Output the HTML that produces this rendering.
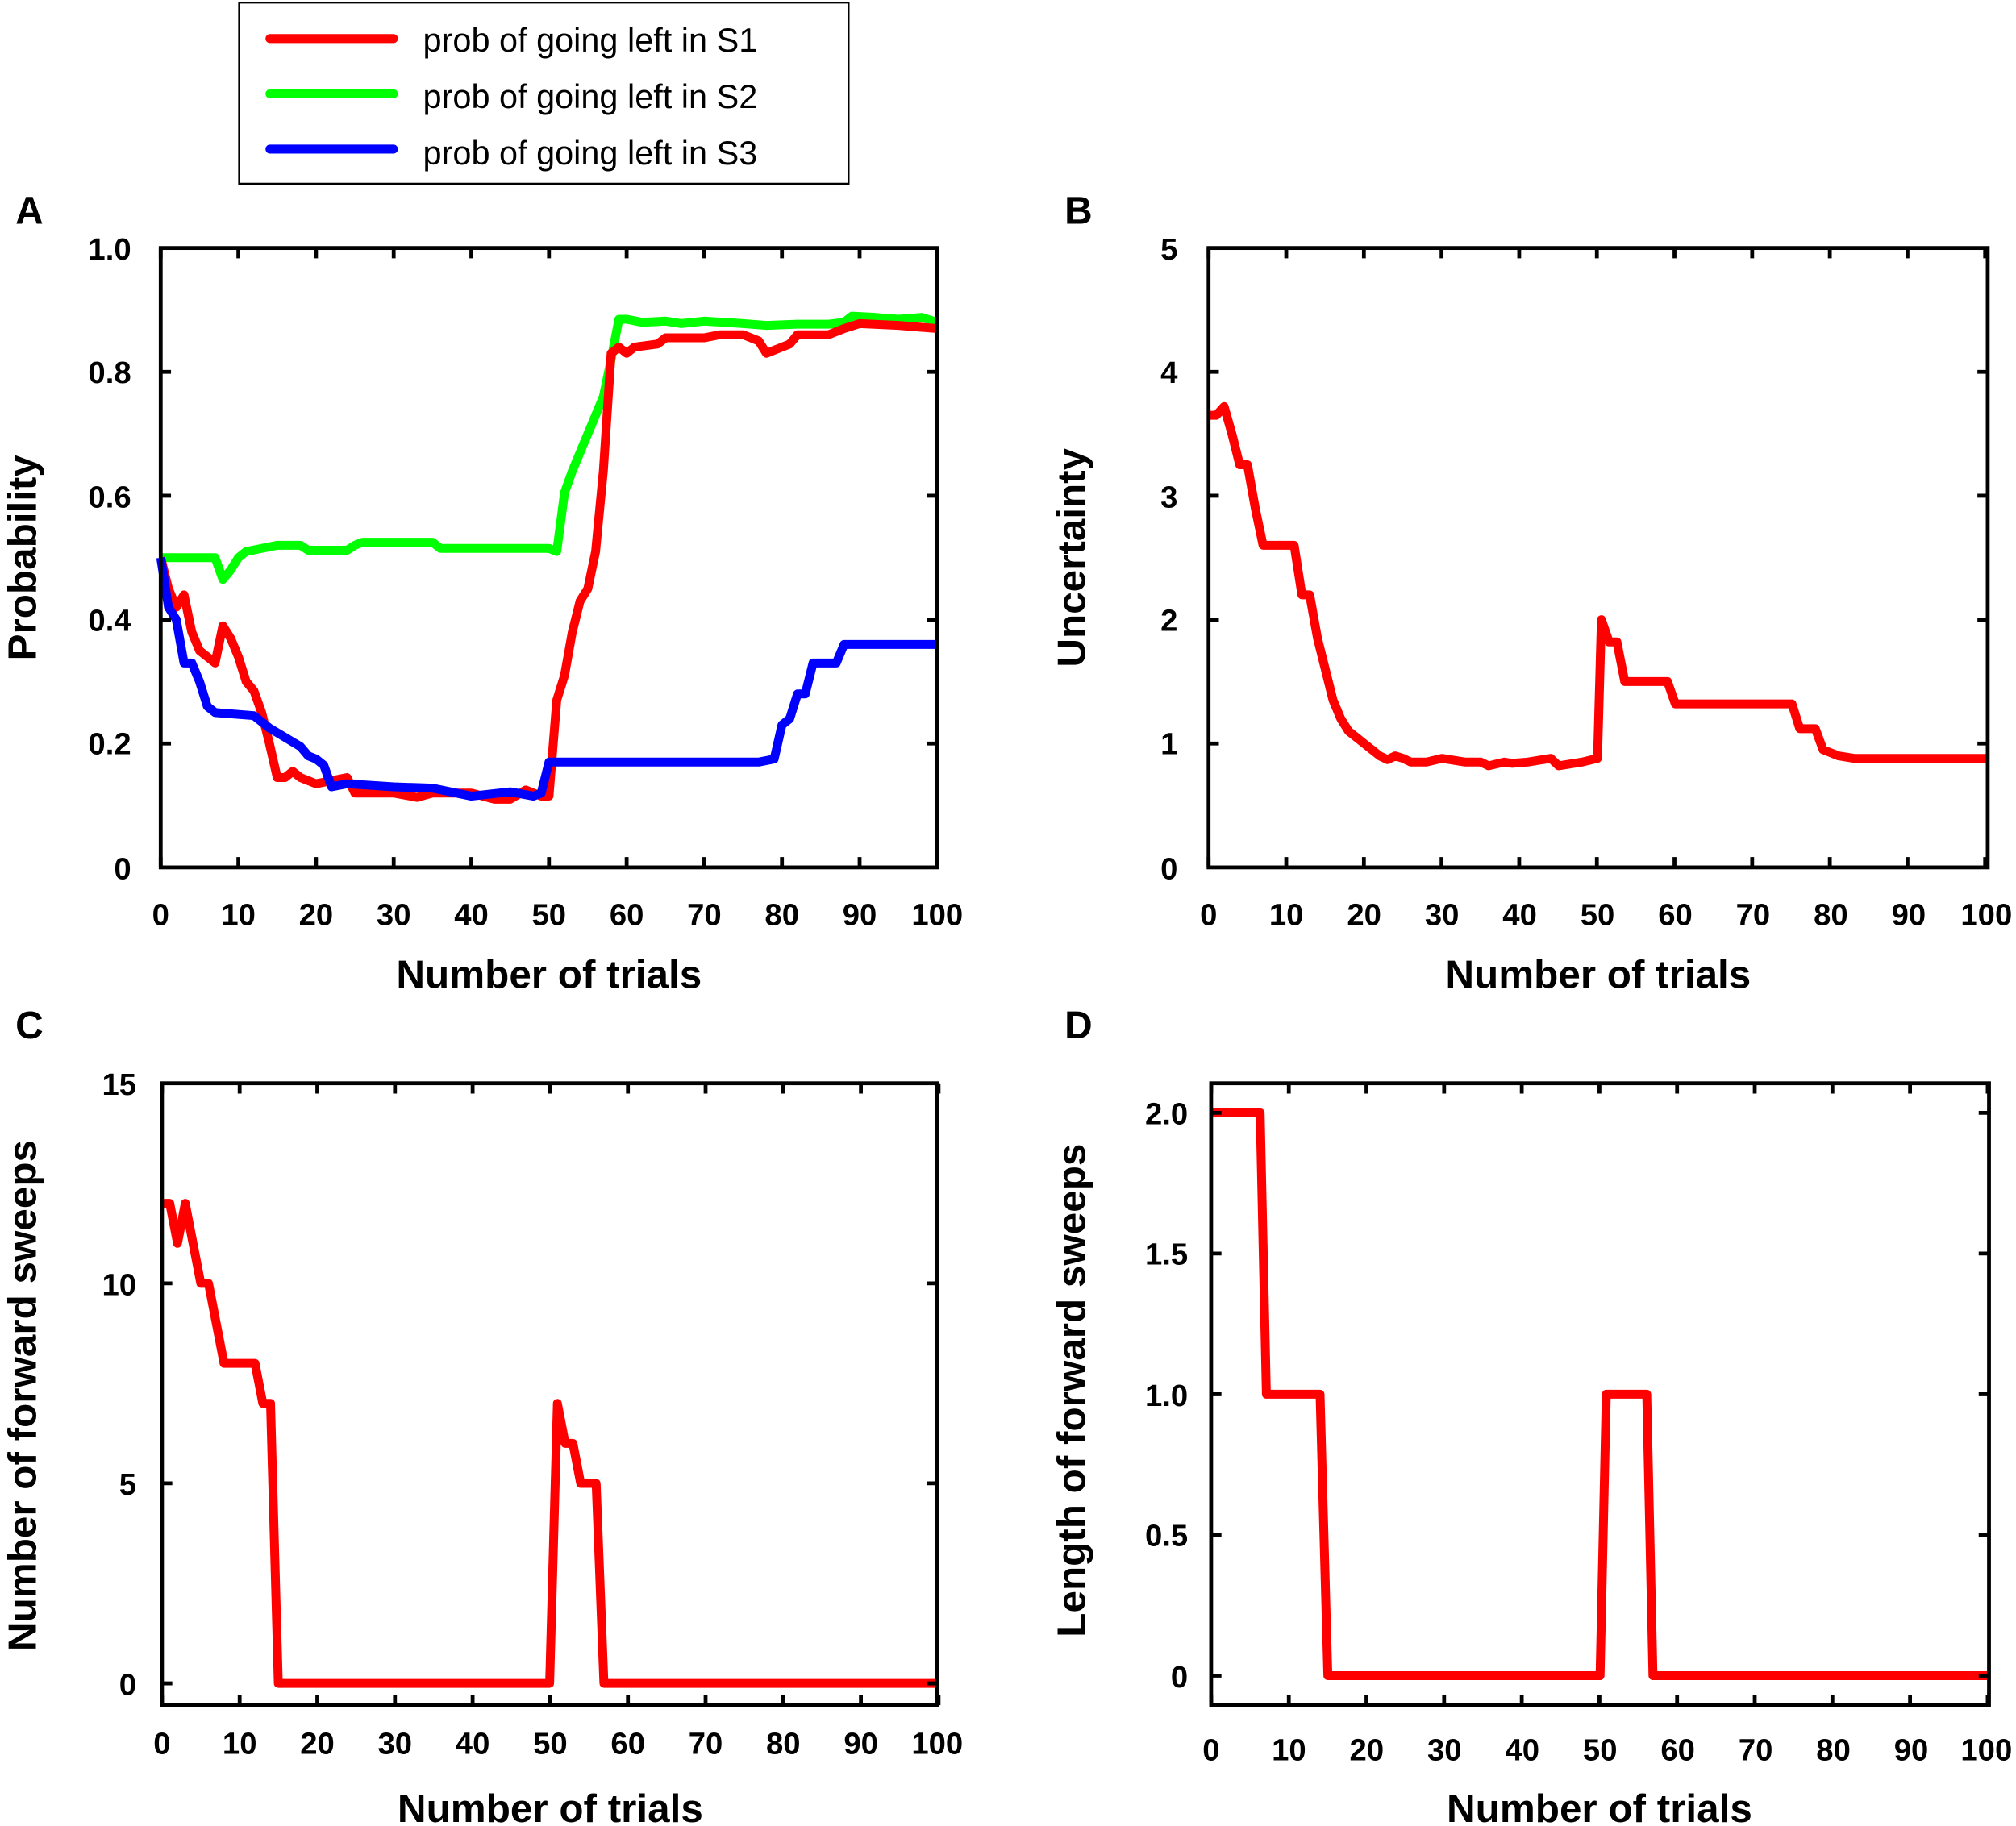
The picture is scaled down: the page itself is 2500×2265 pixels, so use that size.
<!DOCTYPE html>
<html><head><meta charset="utf-8"><style>html,body{margin:0;padding:0;background:#fff}svg{display:block}</style></head>
<body>
<svg width="2500" height="2265" viewBox="0 0 1568 1421" preserveAspectRatio="none" xmlns="http://www.w3.org/2000/svg" font-family="Liberation Sans, sans-serif">
<defs>
<path id="xtb" d="M0 0v-8M60.4 0v-8M120.8 0v-8M181.2 0v-8M241.6 0v-8M302 0v-8M362.4 0v-8M422.8 0v-8M483.2 0v-8M543.6 0v-8M604 0v-8" stroke="#000" stroke-width="3" fill="none"/>
<path id="xtt" d="M0 0v8M60.4 0v8M120.8 0v8M181.2 0v8M241.6 0v8M302 0v8M362.4 0v8M422.8 0v8M483.2 0v8M543.6 0v8M604 0v8" stroke="#000" stroke-width="3" fill="none"/>
</defs>
<rect width="1568" height="1421" fill="#fff"/>

<!-- Legend -->
<rect x="186" y="2" width="474" height="141" fill="#fff" stroke="#000" stroke-width="1.5"/>
<g stroke-width="7" stroke-linecap="round">
<line x1="210" y1="30" x2="306" y2="30" stroke="#ff0000"/>
<line x1="210" y1="73" x2="306" y2="73" stroke="#00ff00"/>
<line x1="210" y1="116" x2="306" y2="116" stroke="#0000ff"/>
</g>
<g font-size="26" fill="#000">
<text x="329" y="40">prob of going left in S1</text>
<text x="329" y="84">prob of going left in S2</text>
<text x="329" y="128">prob of going left in S3</text>
</g>

<g font-weight="bold" font-size="30" fill="#000">
<text x="12" y="174">A</text><text x="828" y="174">B</text>
<text x="12" y="808">C</text><text x="828" y="808">D</text>
</g>

<!-- Panel A -->
<g transform="translate(125,675) scale(6.04,-482)" fill="none" stroke-linejoin="round">
<polyline vector-effect="non-scaling-stroke" stroke-width="11" stroke="#00ff00" points="0,.5 7,.5 8,.465 9,.48 10,.5 11,.51 13,.515 15,.52 18,.52 19,.512 24,.512 25,.52 26,.525 35,.525 36,.515 50,.515 51,.51 52,.605 53,.64 55,.70 57,.76 58,.82 59,.885 60,.885 62,.88 65,.882 67,.878 70,.882 75,.878 78,.875 82,.877 86,.877 88,.88 89,.89 92,.888 95,.885 98,.888 100,.88"/>
<polyline vector-effect="non-scaling-stroke" stroke-width="11" stroke="#ff0000" points="0,.5 1,.45 2,.42 3,.44 4,.38 5,.35 6,.34 7,.33 8,.39 9,.37 10,.34 11,.30 12,.285 13,.25 14,.20 15,.145 16,.145 17,.155 18,.145 19,.14 20,.135 22,.14 24,.145 25,.12 30,.12 33,.113 35,.12 40,.12 43,.11 45,.11 47,.125 49,.115 50,.115 51,.27 52,.31 53,.38 54,.43 55,.45 56,.51 57,.64 58,.83 59,.84 60,.83 61,.84 64,.845 65,.855 70,.855 72,.86 75,.86 77,.85 78,.83 80,.84 81,.845 82,.86 86,.86 88,.87 90,.878 95,.875 100,.87"/>
<polyline vector-effect="non-scaling-stroke" stroke-width="11" stroke="#0000ff" points="0,.5 1,.42 2,.40 3,.33 4,.33 5,.30 6,.26 7,.25 12,.245 14,.225 16,.21 18,.195 19,.18 20,.175 21,.165 22,.13 24,.135 30,.13 35,.128 40,.115 45,.122 48,.115 49,.12 50,.17 77,.17 79,.175 80,.23 81,.24 82,.28 83,.28 84,.33 87,.33 88,.36 100,.36"/>
</g>
<rect x="125" y="193" width="604" height="482" fill="none" stroke="#000" stroke-width="3"/>
<use href="#xtb" x="125" y="675"/><use href="#xtt" x="125" y="193"/>
<path d="M125 578.6h8M125 482.2h8M125 385.8h8M125 289.4h8M729 578.6h-8M729 482.2h-8M729 385.8h-8M729 289.4h-8" stroke="#000" stroke-width="3"/>
<g font-weight="bold" font-size="24" text-anchor="middle">
<text x="125" y="720">0</text><text x="185.4" y="720">10</text><text x="245.8" y="720">20</text><text x="306.2" y="720">30</text><text x="366.6" y="720">40</text><text x="427" y="720">50</text><text x="487.4" y="720">60</text><text x="547.8" y="720">70</text><text x="608.2" y="720">80</text><text x="668.6" y="720">90</text><text x="729" y="720">100</text>
</g>
<g font-weight="bold" font-size="24" text-anchor="end">
<text x="102" y="684">0</text><text x="102" y="587">0.2</text><text x="102" y="491">0.4</text><text x="102" y="395">0.6</text><text x="102" y="298">0.8</text><text x="102" y="202">1.0</text>
</g>
<text x="427" y="769" font-weight="bold" font-size="31" text-anchor="middle">Number of trials</text>
<text transform="translate(28,434) rotate(-90)" font-weight="bold" font-size="31" text-anchor="middle">Probability</text>

<!-- Panel B -->
<g transform="translate(940,675) scale(6.05,-96.4)" fill="none" stroke-linejoin="round">
<polyline vector-effect="non-scaling-stroke" stroke-width="11" stroke="#ff0000" points="0,3.65 1,3.65 2,3.72 3,3.5 4,3.25 5,3.25 6,2.9 7,2.6 11,2.6 12,2.2 13,2.2 14,1.85 15,1.6 16,1.35 17,1.2 18,1.1 19,1.05 20,1.0 21,.95 22,.9 23,.87 24,.9 25,.88 26,.85 28,.85 30,.88 33,.85 35,.85 36,.82 38,.85 39,.84 41,.85 44,.88 45,.82 48,.85 50,.88 50.5,2.0 51.5,1.82 52.5,1.82 53.5,1.5 59,1.5 60,1.32 75,1.32 76,1.12 78,1.12 79,.95 81,.9 83,.88 100,.88"/>
</g>
<rect x="940" y="193" width="606" height="482" fill="none" stroke="#000" stroke-width="3"/>
<use href="#xtb" x="940" y="675"/><use href="#xtt" x="940" y="193"/>
<path d="M940 578.6h8M940 482.2h8M940 385.8h8M940 289.4h8M1546 578.6h-8M1546 482.2h-8M1546 385.8h-8M1546 289.4h-8" stroke="#000" stroke-width="3"/>
<g font-weight="bold" font-size="24" text-anchor="middle">
<text x="940" y="720">0</text><text x="1000.5" y="720">10</text><text x="1061" y="720">20</text><text x="1121.5" y="720">30</text><text x="1182" y="720">40</text><text x="1242.5" y="720">50</text><text x="1303" y="720">60</text><text x="1363.5" y="720">70</text><text x="1424" y="720">80</text><text x="1484.5" y="720">90</text><text x="1545" y="720">100</text>
</g>
<g font-weight="bold" font-size="24" text-anchor="end">
<text x="916" y="684">0</text><text x="916" y="587">1</text><text x="916" y="491">2</text><text x="916" y="395">3</text><text x="916" y="298">4</text><text x="916" y="202">5</text>
</g>
<text x="1243" y="769" font-weight="bold" font-size="31" text-anchor="middle">Number of trials</text>
<text transform="translate(844,434) rotate(-90)" font-weight="bold" font-size="31" text-anchor="middle">Uncertainty</text>

<!-- Panel C -->
<g transform="translate(126,1310) scale(6.03,-31.13)" fill="none" stroke-linejoin="round">
<polyline vector-effect="non-scaling-stroke" stroke-width="11" stroke="#ff0000" points="0,12 1,12 2,11 3,12 4,11 5,10 6,10 7,9 8,8 12,8 13,7 14,7 15,0 50,0 51,7 52,6 53,6 54,5 56,5 57,0 100,0"/>
</g>
<rect x="126" y="843" width="603" height="484" fill="none" stroke="#000" stroke-width="3"/>
<use href="#xtb" x="126" y="1327"/><use href="#xtt" x="126" y="843"/>
<path d="M126 1310h8M126 1154.3h8M126 998.7h8M729 1310h-8M729 1154.3h-8M729 998.7h-8" stroke="#000" stroke-width="3"/>
<g font-weight="bold" font-size="24" text-anchor="middle">
<text x="126" y="1365">0</text><text x="186.4" y="1365">10</text><text x="246.8" y="1365">20</text><text x="307.2" y="1365">30</text><text x="367.6" y="1365">40</text><text x="428" y="1365">50</text><text x="488.4" y="1365">60</text><text x="548.8" y="1365">70</text><text x="609.2" y="1365">80</text><text x="669.6" y="1365">90</text><text x="729" y="1365">100</text>
</g>
<g font-weight="bold" font-size="24" text-anchor="end">
<text x="106" y="1319">0</text><text x="106" y="1163">5</text><text x="106" y="1008">10</text><text x="106" y="852">15</text>
</g>
<text x="428" y="1418" font-weight="bold" font-size="31" text-anchor="middle">Number of trials</text>
<text transform="translate(28,1086) rotate(-90)" font-weight="bold" font-size="31" text-anchor="middle">Number of forward sweeps</text>

<!-- Panel D -->
<g transform="translate(942,1304) scale(6.05,-219)" fill="none" stroke-linejoin="round">
<polyline vector-effect="non-scaling-stroke" stroke-width="11" stroke="#ff0000" points="0,2 6.3,2 7.1,1 14,1 15,0 50,0 50.8,1 56,1 56.8,0 100,0"/>
</g>
<rect x="942" y="843" width="605" height="484" fill="none" stroke="#000" stroke-width="3"/>
<use href="#xtb" x="942" y="1327"/><use href="#xtt" x="942" y="843"/>
<path d="M942 1304h8M942 1194.5h8M942 1085h8M942 975.5h8M942 866h8M1547 1304h-8M1547 1194.5h-8M1547 1085h-8M1547 975.5h-8M1547 866h-8" stroke="#000" stroke-width="3"/>
<g font-weight="bold" font-size="24" text-anchor="middle">
<text x="942" y="1370">0</text><text x="1002.5" y="1370">10</text><text x="1063" y="1370">20</text><text x="1123.5" y="1370">30</text><text x="1184" y="1370">40</text><text x="1244.5" y="1370">50</text><text x="1305" y="1370">60</text><text x="1365.5" y="1370">70</text><text x="1426" y="1370">80</text><text x="1486.5" y="1370">90</text><text x="1545" y="1370">100</text>
</g>
<g font-weight="bold" font-size="24" text-anchor="end">
<text x="924" y="1313">0</text><text x="924" y="1203">0.5</text><text x="924" y="1094">1.0</text><text x="924" y="984">1.5</text><text x="924" y="875">2.0</text>
</g>
<text x="1244" y="1418" font-weight="bold" font-size="31" text-anchor="middle">Number of trials</text>
<text transform="translate(844,1082) rotate(-90)" font-weight="bold" font-size="31" text-anchor="middle">Length of forward sweeps</text>
</svg>
</body></html>
